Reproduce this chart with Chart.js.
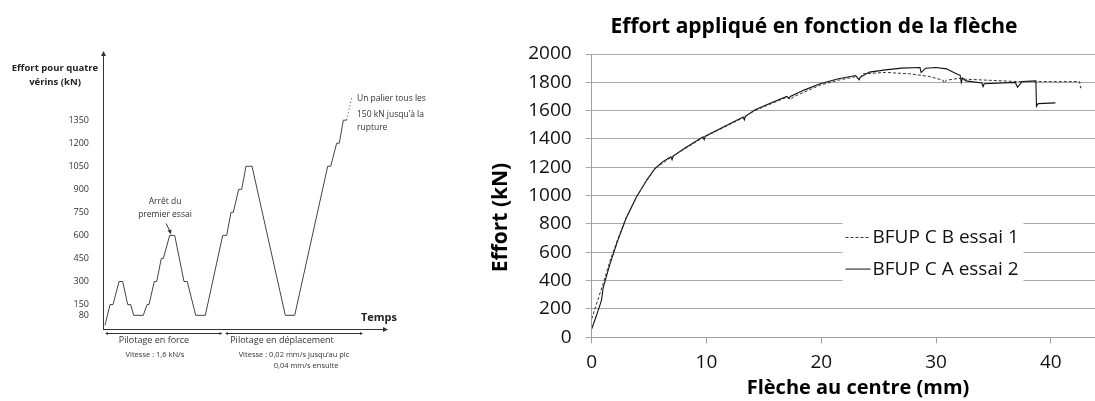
<!DOCTYPE html>
<html>
<head>
<meta charset="utf-8">
<script src="https://cdn.jsdelivr.net/npm/chart.js@4/dist/chart.umd.min.js"></script>
<style>
  html, body { margin: 0; padding: 0; background: #fff; }
  #wrap { position: relative; width: 1095px; height: 401px; overflow: hidden; }
  #protocol { position: absolute; left: 0; top: 0; }
  #fleche { position: absolute; left: 480px; top: 0; }
</style>
</head>
<body>
<div id="wrap">
  <canvas id="protocol" width="480" height="401"></canvas>
  <canvas id="fleche" width="615" height="401"></canvas>
</div>
<script>
// --- left: loading protocol (time in arbitrary units, force in kN) ---
const protocolTime = [2, 7, 10, 16, 19.7, 24.7, 27.7, 30.7, 40.3, 44, 46, 51.3, 53.7, 58.3, 60.3,
  66.7, 71.7, 81, 84.3, 92.7, 102.3, 119.7, 123.7, 128, 130.3, 135.7, 138.7, 143, 149,
  182.3, 191.7, 224.7, 227.7, 233.7, 236.3, 240.3, 243.7];
const protocolForce = [15, 150, 150, 300, 300, 150, 150, 80, 80, 150, 150, 300, 300, 450, 450,
  600, 600, 300, 300, 80, 80, 600, 600, 750, 750, 900, 900, 1050, 1050,
  80, 80, 1050, 1050, 1200, 1200, 1350, 1350];
const nextStepTime = [243.7, 248.7];
const nextStepForce = [1350, 1500];
const protocolTicks = [80, 150, 300, 450, 600, 750, 900, 1050, 1200, 1350];

// --- right: load vs mid-span deflection ---
const essai1X = [0, 0.6, 1.0, 1.6, 2.3, 3.0, 3.9, 4.8, 5.5, 6.9, 8.1, 9.7, 11.6, 13.2, 14.2,
  17, 17.4, 17.5, 19.9, 21.5, 23.0, 23.3, 23.6, 25.6, 27.7, 29.4, 30.6, 30.7, 30.9, 32.0,
  32.6, 37.2, 42.5, 42.6, 42.8];
const essai1Y = [130, 280, 380, 540, 700, 845, 990, 1110, 1190, 1270, 1330, 1410, 1485, 1550, 1600,
  1695, 1680, 1695, 1780, 1815, 1840, 1820, 1860, 1870, 1860, 1842, 1815, 1795, 1815, 1828,
  1822, 1805, 1805, 1760, 1772];
const essai2X = [0, 0.4, 0.85, 1.0, 1.6, 2.3, 3.0, 3.9, 4.8, 5.5, 6.2, 6.9, 7.0, 7.1, 8.1, 9.7,
  9.8, 9.9, 11.6, 13.2, 13.3, 13.4, 14.2, 15.5, 17.0, 17.2, 17.3, 18.5, 19.9, 21.5, 23.0,
  23.3, 23.4, 24.2, 25.6, 27, 28.6, 28.7, 29.1, 30.0, 30.9, 31.9, 32.1, 32.2, 32.3, 32.6,
  34.0, 34.1, 34.2, 36.9, 37.1, 37.5, 38.7, 38.75, 38.9, 40.4];
const essai2Y = [60, 150, 260, 350, 520, 690, 840, 990, 1110, 1190, 1240, 1275, 1255, 1280, 1335, 1415,
  1395, 1420, 1490, 1555, 1535, 1560, 1605, 1650, 1700, 1685, 1700, 1745, 1790, 1825, 1848,
  1818, 1835, 1872, 1888, 1900, 1905, 1870, 1900, 1905, 1895, 1855, 1850, 1800, 1830, 1810,
  1795, 1770, 1790, 1800, 1765, 1805, 1810, 1630, 1650, 1655];
const seriesNames = ['BFUP C B essai 1', 'BFUP C A essai 2'];

const FONT = '"Open Sans", "Liberation Sans", sans-serif';
const pts = (xs, ys) => xs.map((x, i) => ({ x: x, y: ys[i] }));
const plain = v => String(v);

function arrowHead(ctx, x, y, dir, size) {
  ctx.beginPath();
  if (dir === 'up') { ctx.moveTo(x, y); ctx.lineTo(x - size / 2, y + size); ctx.lineTo(x + size / 2, y + size); }
  if (dir === 'right') { ctx.moveTo(x, y); ctx.lineTo(x - size, y - size / 2); ctx.lineTo(x - size, y + size / 2); }
  if (dir === 'left') { ctx.moveTo(x, y); ctx.lineTo(x + size, y - size / 2); ctx.lineTo(x + size, y + size / 2); }
  ctx.closePath();
  ctx.fill();
}

const protocolDecor = {
  id: 'protocolDecor',
  afterDraw(chart) {
    const ctx = chart.ctx;
    const a = chart.chartArea;
    const xs = chart.scales.x, ys = chart.scales.y;
    ctx.save();
    ctx.strokeStyle = '#333';
    ctx.fillStyle = '#333';
    ctx.lineWidth = 1;
    // axes with arrows
    ctx.beginPath();
    ctx.moveTo(a.left + 0.5, a.bottom);
    ctx.lineTo(a.left + 0.5, a.top + 4);
    ctx.moveTo(a.left, a.bottom + 0.5);
    ctx.lineTo(a.right - 4, a.bottom + 0.5);
    ctx.stroke();
    arrowHead(ctx, a.left + 0.5, a.top, 'up', 5);
    arrowHead(ctx, a.right, a.bottom + 0.5, 'right', 5);

    // phase arrows under the time axis
    const yArr = a.bottom + 4.5;
    const phases = [[xs.getPixelForValue(2), xs.getPixelForValue(119.5)],
                    [xs.getPixelForValue(122), xs.getPixelForValue(260)]];
    phases.forEach(p => {
      ctx.beginPath();
      ctx.moveTo(p[0] + 2, yArr);
      ctx.lineTo(p[1] - 2, yArr);
      ctx.stroke();
      arrowHead(ctx, p[0], yArr, 'left', 3);
      arrowHead(ctx, p[1], yArr, 'right', 3);
    });

    ctx.textAlign = 'center';
    ctx.textBaseline = 'middle';
    ctx.fillStyle = '#222';
    ctx.font = 'bold 9.5px ' + FONT;
    ctx.fillText('Effort pour quatre', 55, 68);
    ctx.fillText('vérins (kN)', 55, 82);
    ctx.font = 'bold 11px ' + FONT;
    ctx.fillText('Temps', a.right - 9, a.bottom - 11);

    ctx.fillStyle = '#333';
    ctx.font = '9px ' + FONT;
    ctx.fillText('Pilotage en force', 154, a.bottom + 11);
    ctx.fillText('Pilotage en déplacement', 282, a.bottom + 11);
    ctx.font = '7.5px ' + FONT;
    ctx.fillText('Vitesse : 1,6 kN/s', 155, a.bottom + 26);
    ctx.fillText('Vitesse : 0,02 mm/s jusqu\u2019au pic', 294, a.bottom + 26);
    ctx.fillText('0,04 mm/s ensuite', 306, a.bottom + 37);

    // first test stop
    ctx.font = '8.5px ' + FONT;
    const ax = xs.getPixelForValue(68), ay = ys.getPixelForValue(600);
    ctx.fillText('Arrêt du', ax - 6, ay - 34);
    ctx.fillText('premier essai', ax - 6, ay - 21);
    ctx.beginPath();
    ctx.moveTo(ax - 5, ay - 12);
    ctx.lineTo(ax - 1, ay - 4);
    ctx.stroke();
    ctx.beginPath();
    ctx.moveTo(ax, ay - 1);
    ctx.lineTo(ax - 3.5, ay - 5);
    ctx.lineTo(ax + 0.5, ay - 6);
    ctx.closePath();
    ctx.fill();

    // step note
    ctx.textAlign = 'left';
    ctx.font = '8.5px ' + FONT;
    const nx = xs.getPixelForValue(254);
    ctx.fillText('Un palier tous les', nx, ys.getPixelForValue(1500) + 1);
    ctx.fillText('150 kN jusqu\u2019à la', nx, ys.getPixelForValue(1500) + 17);
    ctx.fillText('rupture', nx, ys.getPixelForValue(1500) + 30);
    ctx.restore();
  }
};

new Chart(document.getElementById('protocol').getContext('2d'), {
  type: 'scatter',
  data: {
    datasets: [{
      data: pts(protocolTime, protocolForce),
      showLine: true,
      borderColor: '#444',
      borderWidth: 1,
      pointRadius: 0,
      tension: 0
    }, {
      data: pts(nextStepTime, nextStepForce),
      showLine: true,
      borderColor: '#777',
      borderWidth: 1,
      borderDash: [1.5, 2],
      pointRadius: 0
    }]
  },
  options: {
    responsive: false,
    animation: false,
    events: [],
    layout: { padding: { top: 51, right: 92, left: 0, bottom: 0 } },
    plugins: { legend: { display: false }, tooltip: { enabled: false } },
    scales: {
      x: {
        type: 'linear', min: 0, max: 285,
        ticks: { display: false },
        grid: { display: false },
        border: { display: false },
        afterFit: s => { s.height = 72; }
      },
      y: {
        type: 'linear', min: -9, max: 1800,
        afterBuildTicks: s => { s.ticks = protocolTicks.map(v => ({ value: v })); },
        ticks: { font: { family: FONT, size: 9 }, color: '#333', padding: 6, callback: plain },
        grid: { display: false },
        border: { display: false },
        afterFit: s => { s.width = 103; }
      }
    }
  },
  plugins: [protocolDecor]
});

// right chart: titles and legend box drawn on top
const flecheDecor = {
  id: 'flecheDecor',
  afterDraw(chart) {
    const ctx = chart.ctx;
    ctx.save();
    ctx.fillStyle = '#000';
    ctx.textAlign = 'center';
    ctx.textBaseline = 'middle';
    ctx.font = 'bold 21px ' + FONT;
    ctx.fillText('Effort appliqué en fonction de la flèche', 334, 27);
    ctx.font = 'bold 20px ' + FONT;
    ctx.fillText('Flèche au centre (mm)', 378, 388);
    ctx.save();
    ctx.translate(21, 217.5);
    ctx.rotate(-Math.PI / 2);
    ctx.font = 'bold 21px ' + FONT;
    ctx.fillText('Effort (kN)', 0, 0);
    ctx.restore();

    // legend inside the plot
    const xs = chart.scales.x, ys = chart.scales.y;
    const lx = xs.getPixelForValue(21.85), ly = ys.getPixelForValue(860);
    ctx.fillStyle = '#fff';
    ctx.fillRect(lx, ly, 181, 68);
    ctx.textAlign = 'left';
    ctx.font = '19px ' + FONT;
    chart.data.datasets.forEach((ds, i) => {
      const yy = ly + 21.5 + i * 31.6;
      ctx.strokeStyle = ds.borderColor;
      ctx.lineWidth = 1;
      ctx.setLineDash(ds.borderDash || []);
      ctx.beginPath();
      ctx.moveTo(lx + 3, yy + 0.5);
      ctx.lineTo(lx + 28, yy + 0.5);
      ctx.stroke();
      ctx.setLineDash([]);
      ctx.fillStyle = '#111';
      ctx.fillText(ds.label, lx + 30, yy + 1);
    });
    ctx.restore();
  }
};

new Chart(document.getElementById('fleche').getContext('2d'), {
  type: 'scatter',
  data: {
    datasets: [{
      label: seriesNames[0],
      data: pts(essai1X, essai1Y),
      showLine: true,
      borderColor: '#333',
      borderWidth: 1,
      borderDash: [3, 2],
      pointRadius: 0
    }, {
      label: seriesNames[1],
      data: pts(essai2X, essai2Y),
      showLine: true,
      borderColor: '#111',
      borderWidth: 1.1,
      pointRadius: 0
    }]
  },
  options: {
    responsive: false,
    animation: false,
    events: [],
    layout: { padding: { top: 54, right: 0, left: 0, bottom: 0 } },
    plugins: { legend: { display: false }, tooltip: { enabled: false } },
    scales: {
      x: {
        type: 'linear', min: 0, max: 43.85,
        ticks: { stepSize: 10, includeBounds: false, font: { family: FONT, size: 19 }, color: '#111', padding: 8, maxRotation: 0, callback: plain },
        grid: { drawOnChartArea: false, tickLength: 6, color: '#a0a0a0' },
        border: { color: '#a0a0a0' },
        afterFit: s => { s.height = 63.7; }
      },
      y: {
        type: 'linear', min: 0, max: 2000,
        ticks: { stepSize: 200, font: { family: FONT, size: 19 }, color: '#111', padding: 14, callback: plain },
        grid: { tickLength: 6, color: '#a8a8a8' },
        border: { color: '#a0a0a0' },
        afterFit: s => { s.width = 111.7; }
      }
    }
  },
  plugins: [flecheDecor]
});
</script>
</body>
</html>
